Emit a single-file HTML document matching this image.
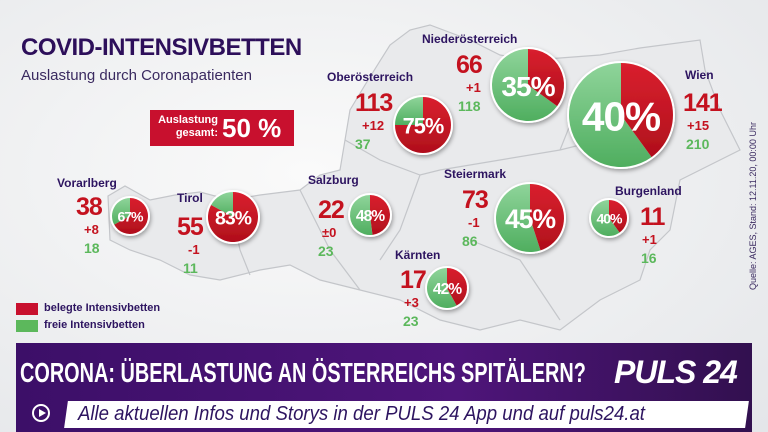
<!DOCTYPE html>
<html><head><meta charset="utf-8">
<style>
body{margin:0;width:768px;height:432px;overflow:hidden;background:#eef0f2;font-family:"Liberation Sans",sans-serif;position:relative}
.t{position:absolute;white-space:nowrap;font-weight:bold}
.nm{color:#2d1460;font-size:12px}
.big{color:#c4121f;font-size:25px;line-height:25px;letter-spacing:-1px}
.ch{color:#c4121f;font-size:13px}
.fr{color:#5cb85c;font-size:14px}
</style></head><body>
<div style="position:absolute;inset:0;background:radial-gradient(ellipse at 40% 40%,#fafafa,#e4e6e9)"></div>
<svg width="768" height="432" style="position:absolute;left:0;top:0">
<g fill="#e9eaec" stroke="#c4c6ca" stroke-width="1.2">
<path d="M108,196 L125,186 L150,200 L175,195 L200,192 L230,200 L260,195 L300,190 L320,175 L340,170 L345,140 L350,110 L365,85 L390,45 L410,30 L430,25 L470,40 L500,55 L530,60 L560,58 L600,55 L640,48 L700,40 L705,70 L720,110 L740,150 L700,170 L680,180 L670,230 L650,250 L640,280 L600,300 L560,330 L520,320 L480,330 L440,320 L400,300 L360,290 L320,280 L290,265 L260,270 L220,280 L190,275 L160,260 L130,250 L110,240 Z"/>
<path d="M345,140 L380,160 L420,175 L440,170 M420,175 L400,230 L380,260 M440,170 L500,160 L560,150 L600,140 L620,165 M560,150 L580,100 L620,80 M230,200 L240,250 L250,275 M300,190 L330,250 L360,290 M470,240 L520,260 L560,320"/>
</g>
</svg>

<div class="t" style="left:21px;top:34px;font-size:24px;color:#2d0f5a;letter-spacing:-0.5px">COVID-INTENSIVBETTEN</div>
<div class="t" style="left:21px;top:67px;font-size:15px;font-weight:normal;color:#3a2a60">Auslastung durch Coronapatienten</div>
<div style="position:absolute;left:150px;top:110px;width:144px;height:36px;background:#c8102e">
<div class="t" style="left:6px;top:4px;color:#fff;font-size:11px;line-height:13px;text-align:right;width:62px">Auslastung<br>gesamt:</div>
<div class="t" style="left:72px;top:3px;color:#fff;font-size:26px">50 %</div>
</div>

<div id="labels"></div>
<svg id="pies" width="768" height="432" style="position:absolute;left:0;top:0">
<defs><filter id="sh" x="-30%" y="-30%" width="160%" height="160%"><feDropShadow dx="1" dy="2" stdDeviation="2" flood-opacity="0.35"/></filter>
<linearGradient id="gg" x1="0" y1="0" x2="0" y2="1"><stop offset="0" stop-color="#8fd49a"/><stop offset="1" stop-color="#4fae5f"/></linearGradient>
<linearGradient id="rg" x1="0" y1="0" x2="0" y2="1"><stop offset="0" stop-color="#d9202e"/><stop offset="1" stop-color="#b00f1c"/></linearGradient></defs>
</svg>

<div class="t" style="left:748px;top:290px;transform-origin:0 0;transform:rotate(-90deg);font-size:9px;font-weight:normal;color:#3a2a60">Quelle: AGES, Stand: 12.11.20, 00:00 Uhr</div>

<div style="position:absolute;left:16px;top:303px;width:22px;height:12px;background:#c8102e"></div>
<div class="t" style="left:44px;top:302px;font-size:11px;color:#2d1460">belegte Intensivbetten</div>
<div style="position:absolute;left:16px;top:320px;width:22px;height:12px;background:#5cb85c"></div>
<div class="t" style="left:44px;top:319px;font-size:11px;color:#2d1460">freie Intensivbetten</div>

<div style="position:absolute;left:16px;top:343px;width:736px;height:89px;background:linear-gradient(90deg,#3c0f68,#4e157a 60%,#32104f)"></div>
<div class="t" style="left:20px;top:357px;font-size:28px;color:#fff;transform-origin:0 0;transform:scaleX(0.71)">CORONA: ÜBERLASTUNG AN ÖSTERREICHS SPITÄLERN?</div>
<div class="t" style="left:614px;top:354px;font-size:32px;color:#fff;font-style:italic;letter-spacing:-1px">PULS 24</div>
<div style="position:absolute;left:32px;top:404px;width:18px;height:18px;border:2px solid #fff;border-radius:50%;box-sizing:border-box"><div style="position:absolute;left:5px;top:3px;border-left:7px solid #fff;border-top:4px solid transparent;border-bottom:4px solid transparent"></div></div>
<div style="position:absolute;left:66px;top:401px;width:681px;height:27px;background:#fff;transform:skewX(-8deg)"></div>
<div class="t" style="left:78px;top:403px;font-size:20px;font-weight:normal;font-style:italic;color:#2d1460;transform-origin:0 0;transform:scaleX(0.93)">Alle aktuellen Infos und Storys in der PULS 24 App und auf puls24.at</div>

<script>
const regions=["Vorarlberg","Tirol","Salzburg","Oberösterreich","Niederösterreich","Wien","Steiermark","Burgenland","Kärnten"];
const occupied=[38,55,22,113,66,141,73,11,17];
const changes=["+8","-1","±0","+12","+1","+15","-1","+1","+3"];
const freeBeds=[18,11,23,37,118,210,86,16,23];
const percents=[67,83,48,75,35,40,45,40,42];
// layout (not data)
const pieCx=[130,233,370,423,528,621,530,609,447];
const pieCy=[216,217,215,125,85,115,218,218,288];
const pieR=[18,25,20,28,36,52,34,18,20];
const lab=[[57,176,76,195,84,84],[177,191,177,215,188,183],[308,173,318,198,322,318],[327,70,355,91,362,355],[422,32,456,53,466,458],[685,68,683,91,687,686],[444,167,462,188,468,462],[615,184,640,205,642,641],[395,248,400,268,404,403]];
const NS="http://www.w3.org/2000/svg";
const svg=document.getElementById('pies');
const L=document.getElementById('labels');
function arc(cx,cy,r,a0,a1){const p=a=>[cx+r*Math.sin(a),cy-r*Math.cos(a)];const s=p(a0),e=p(a1);const lg=(a1-a0)>Math.PI?1:0;return `M${cx},${cy} L${s[0]},${s[1]} A${r},${r} 0 ${lg} 1 ${e[0]},${e[1]} Z`;}
function div(cls,txt,x,y){const d=document.createElement('div');d.className='t '+cls;d.textContent=txt;d.style.left=x+'px';d.style.top=y+'px';L.appendChild(d);return d;}
regions.forEach((n,i)=>{
 const cx=pieCx[i],cy=pieCy[i],r=pieR[i],f=percents[i]/100;
 const g=document.createElementNS(NS,'g');
 
 
 g.setAttribute('filter','url(#sh)');
 const bg=document.createElementNS(NS,'circle');bg.setAttribute('cx',cx);bg.setAttribute('cy',cy);bg.setAttribute('r',r+2);bg.setAttribute('fill','#fff');g.appendChild(bg);
 const gr=document.createElementNS(NS,'path');gr.setAttribute('d',arc(cx,cy,r,f*2*Math.PI,2*Math.PI-0.0001));gr.setAttribute('fill','url(#gg)');
 
 
 g.appendChild(gr);
 const rd=document.createElementNS(NS,'path');rd.setAttribute('d',arc(cx,cy,r,0,f*2*Math.PI));rd.setAttribute('fill','url(#rg)');
 
 
 g.appendChild(rd);
 const t=document.createElementNS(NS,'text');t.setAttribute('x',cx);t.setAttribute('y',cy+r*0.3);t.setAttribute('text-anchor','middle');t.setAttribute('fill','#fff');t.setAttribute('font-weight','bold');t.setAttribute('font-family','Liberation Sans,sans-serif');t.setAttribute('font-size',r*0.78);t.setAttribute('letter-spacing','-1');t.textContent=percents[i]+'%';
 
 
 g.appendChild(t);svg.appendChild(g);
 const p=lab[i];
 const a=div('nm',n,p[0],p[1]);
 
 const b=div('big',occupied[i],p[2],p[3]);
 
 const c=div('ch',changes[i],p[4],p[3]+27);
 
 const d=div('fr',freeBeds[i],p[5],p[3]+45);
 
});
</script>
</body></html>
